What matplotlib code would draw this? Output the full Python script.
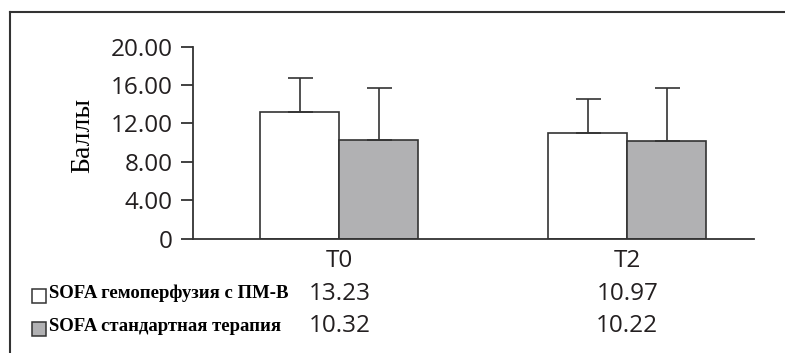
import matplotlib
matplotlib.use('Agg')
import matplotlib.pyplot as plt
from matplotlib.patches import Rectangle
from matplotlib.lines import Line2D
from matplotlib.transforms import blended_transform_factory

# SOFA scores per time point
timepoints = ['T0', 'T2']
hemo_mean = [13.23, 10.97]
hemo_sd = [3.50, 3.55]
std_mean = [10.32, 10.22]
std_sd = [5.35, 5.45]
series_names = ['SOFA гемоперфузия с ПМ-В', 'SOFA стандартная терапия']
yticks = [0, 4, 8, 12, 16, 20]

W, H = 785, 353
DPI = 100
NUM_FONT = 'Open Sans'
SERIF = 'Liberation Serif'
INK = '#333333'
TXT = '#231f20'
GREY = '#b1b1b3'


def px(x, y):
  # pixel coords (top-left origin) to figure fraction
  return x / W, 1 - y / H


def main():
  fig = plt.figure(figsize=(W / DPI, H / DPI), dpi=DPI)

  # outer frame: only left and top edges are visible
  fig.add_artist(Line2D([10 / W, 10 / W], [0, 1 - 12 / H], color=INK, lw=1.5,
                        transform=fig.transFigure))
  fig.add_artist(Line2D([10 / W, 1], [1 - 12 / H, 1 - 12 / H], color=INK, lw=1.5,
                        transform=fig.transFigure))

  left, bottom = px(193, 238.7)
  right, top = px(754, 46.7)
  ax = fig.add_axes([left, bottom, right - left, top - bottom])

  x = list(range(len(timepoints)))
  w = 0.274
  ekw = dict(ecolor=INK, elinewidth=1.2, capsize=9, capthick=1.2)
  ax.bar([i - w / 2 for i in x], hemo_mean, w, color='white', edgecolor=INK,
         linewidth=1.2, yerr=[[0] * len(x), hemo_sd], error_kw=ekw, zorder=2)
  ax.bar([i + w / 2 for i in x], std_mean, w, color=GREY, edgecolor=INK,
         linewidth=1.2, yerr=[[0] * len(x), std_sd], error_kw=ekw, zorder=2)

  ax.set_xlim(-0.508, 1.44)
  ax.set_ylim(0, 20)
  for s in ['top', 'right']:
    ax.spines[s].set_visible(False)
  for s in ['left', 'bottom']:
    ax.spines[s].set_color(INK)
    ax.spines[s].set_linewidth(1.3)
  ax.set_xticks([])
  ax.set_yticks(yticks)
  ax.set_yticklabels(['0' if v == 0 else '%.2f' % v for v in yticks],
                     fontfamily=NUM_FONT, fontsize=17.5, color=TXT)
  ax.tick_params(axis='y', length=8.6, width=1.3, color=INK, pad=6)
  ax.set_ylabel('Баллы', fontfamily=SERIF, fontsize=20, color='black')
  ax.yaxis.set_label_coords(95 / W, 0.54, transform=blended_transform_factory(fig.transFigure, ax.transAxes))

  # category labels and the value table below the axis
  tr = blended_transform_factory(ax.transData, fig.transFigure)
  rows = [(261, timepoints), (294, ['%.2f' % v for v in hemo_mean]),
          (326, ['%.2f' % v for v in std_mean])]
  for ypx, labels in rows:
    for i, lab in enumerate(labels):
      ax.text(i, 1 - ypx / H, lab, transform=tr, ha='center', va='center',
              fontfamily=NUM_FONT, fontsize=17.5, color=TXT)

  for (ypx, name, fc) in [(295.5, series_names[0], 'white'), (328.5, series_names[1], GREY)]:
    fig.add_artist(Rectangle((32 / W, 1 - (ypx + 7) / H), 14 / W, 14 / H,
                             facecolor=fc, edgecolor=INK, lw=1.1,
                             transform=fig.transFigure))
    fig.text(49 / W, 1 - (ypx - 2) / H, name, ha='left', va='center',
             fontfamily=SERIF, fontweight='bold', fontsize=13.5, color='black')

  fig.savefig('out.png', dpi=DPI)


if __name__ == '__main__':
  main()
